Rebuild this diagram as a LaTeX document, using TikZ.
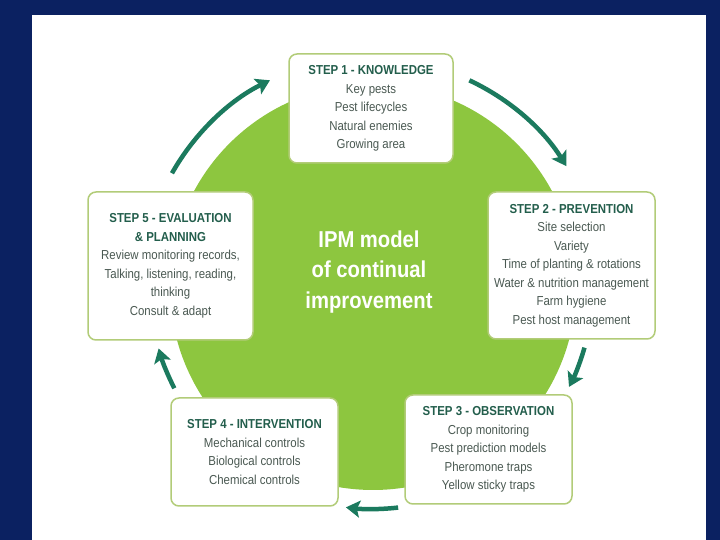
\documentclass[tikz,border=0pt]{standalone}
\usepackage{fontspec}
\setmainfont{Liberation Sans}[FakeStretch=0.88]
\usetikzlibrary{arrows.meta,calc}
\definecolor{navybg}{HTML}{0B2161}
\definecolor{circgreen}{HTML}{8DC63F}
\definecolor{boxgreen}{HTML}{B2CC78}
\definecolor{arrowgreen}{HTML}{1B7A5E}
\definecolor{titlegreen}{HTML}{235E4C}
\definecolor{bodygray}{HTML}{4A5952}
\newcommand\steptitle[1]{{\bfseries\color{titlegreen}#1}}
\begin{document}
\begin{tikzpicture}[x=1pt,y=1pt,
  stepbox/.style={draw=boxgreen, line width=1.5pt, fill=white, rounded corners=8pt,
    align=center, inner sep=0pt, font=\fontsize{13}{18.5}\selectfont, text=bodygray},
  cyc/.style={draw=arrowgreen, line width=4.5pt,
    -{Stealth[length=14pt,width=17pt,inset=3pt]}},
  centertext/.style={align=center, text=white, font=\fontsize{23}{30.5}\selectfont\bfseries}
]
\useasboundingbox (0,0) rectangle (720,540);
\fill[navybg] (0,0) rectangle (720,540);
\fill[white] (32,0) rectangle (706,525);
\coordinate (c) at (373,253);
\fill[circgreen] (c) circle[radius=203];

\node[centertext] (title) at (369,268) {IPM model\\of continual\\improvement};

\node[stepbox, minimum width=164pt, minimum height=109pt] (s1) at (371,431.5)
  {\steptitle{STEP 1 - KNOWLEDGE}\\Key pests\\Pest lifecycles\\Natural enemies\\Growing area};
\node[stepbox, minimum width=167pt, minimum height=147pt] (s2) at (571.5,274.5)
  {\steptitle{STEP 2 - PREVENTION}\\Site selection\\Variety\\Time of planting \& rotations\\Water \& nutrition management\\Farm hygiene\\Pest host management};
\node[stepbox, minimum width=167pt, minimum height=109pt] (s3) at (488.5,90.5)
  {\steptitle{STEP 3 - OBSERVATION}\\Crop monitoring\\Pest prediction models\\Pheromone traps\\Yellow sticky traps};
\node[stepbox, minimum width=167pt, minimum height=108pt] (s4) at (254.5,88)
  {\steptitle{STEP 4 - INTERVENTION}\\Mechanical controls\\Biological controls\\Chemical controls};
\node[stepbox, minimum width=165pt, minimum height=148pt] (s5) at (170.5,274)
  {\steptitle{STEP 5 - EVALUATION}\\\steptitle{\& PLANNING}\\Review monitoring records,\\Talking, listening, reading,\\thinking\\Consult \& adapt};

\coordinate (a1) at ($(c)+(65:228)$);
\coordinate (a2) at ($(c)+(344:220)$);
\coordinate (a3) at ($(c)+(276.5:222)$);
\coordinate (a4) at ($(c)+(207:223)$);
\coordinate (a5) at ($(c)+(150.5:231)$);
\draw[cyc] (a1) arc[start angle=65, end angle=32, radius=228];
\draw[cyc] (a2) arc[start angle=344, end angle=333, radius=220];
\draw[cyc] (a3) arc[start angle=276.5, end angle=263, radius=222];
\draw[cyc] (a4) arc[start angle=207, end angle=196, radius=223];
\draw[cyc] (a5) arc[start angle=150.5, end angle=116.5, radius=231];
\end{tikzpicture}
\end{document}
